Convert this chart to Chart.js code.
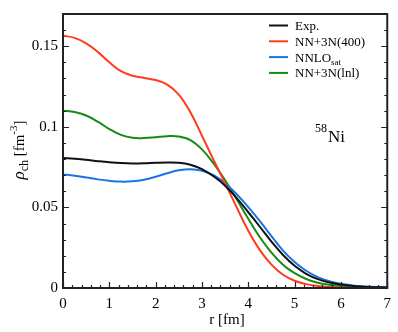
<!DOCTYPE html>
<html>
<head>
<meta charset="utf-8">
<script src="https://cdn.jsdelivr.net/npm/chart.js@4"></script>
<style>
  html, body { margin: 0; padding: 0; background: #fff; }
  #wrap { width: 398px; height: 332px; }
</style>
</head>
<body>
<div id="wrap"><canvas id="chart"></canvas></div>
<script>
// ── Data
const radius = [0, 0.25, 0.5, 0.75, 1, 1.25, 1.5, 1.75, 2, 2.25, 2.5, 2.75, 3, 3.25, 3.5, 3.75,
                4, 4.25, 4.5, 4.75, 5, 5.25, 5.5, 5.75, 6, 6.25, 6.5, 6.75, 7];

const rhoExp   = [0.0806, 0.0802, 0.0795, 0.0787, 0.0780, 0.0775, 0.0773, 0.0774, 0.0777, 0.0779, 0.0777, 0.0765,
                  0.0738, 0.0693, 0.0635, 0.0558, 0.0470, 0.0380, 0.0288, 0.0205, 0.0138, 0.0088, 0.0055, 0.0034,
                  0.0021, 0.0013, 0.0008, 0.0005, 0.0003];
const rho400   = [0.1565, 0.1552, 0.1518, 0.1465, 0.1400, 0.1345, 0.1317, 0.1303, 0.1290, 0.1262, 0.1200, 0.1090,
                  0.0945, 0.0795, 0.0650, 0.0500, 0.0355, 0.0235, 0.0145, 0.0082, 0.0045, 0.0024, 0.0012, 0.0006,
                  0.0003, 0.00015, 0.0001, 0.00005, 0];
const rhoSat   = [0.0705, 0.0697, 0.0686, 0.0674, 0.0665, 0.0660, 0.0662, 0.0672, 0.0690, 0.0712, 0.0730, 0.0737,
                  0.0728, 0.0700, 0.0650, 0.0582, 0.0502, 0.0415, 0.0322, 0.0232, 0.0162, 0.0107, 0.0068, 0.0042,
                  0.0026, 0.0016, 0.0010, 0.0006, 0.0004];
const rhoLnl   = [0.1100, 0.1092, 0.1070, 0.1032, 0.0986, 0.0950, 0.0932, 0.0930, 0.0935, 0.0942, 0.0940, 0.0918,
                  0.0860, 0.0773, 0.0668, 0.0550, 0.0430, 0.0315, 0.0220, 0.0145, 0.0092, 0.0056, 0.0033, 0.0020,
                  0.0012, 0.0007, 0.0004, 0.0002, 0.0001];

const seriesNames  = ['Exp.', 'NN+3N(400)', 'NNLO', 'NN+3N(lnl)'];
const seriesSubs   = ['', '', 'sat', ''];
const seriesColors = ['#111111', '#ff3b1c', '#1a74e2', '#168a16'];

const xTicks = [0, 1, 2, 3, 4, 5, 6, 7];
const xTickLabels = ['0', '1', '2', '3', '4', '5', '6', '7'];
const yTicks = [0, 0.05, 0.1, 0.15];
const yTickLabels = ['0', '0.05', '0.1', '0.15'];

const SERIF = '"Liberation Serif", "DejaVu Serif", serif';

function toPoints(vals) { return radius.map((r, i) => ({ x: r, y: vals[i] })); }

// ── Frame, inward ticks, legend, axis titles, nucleus label
const decorPlugin = {
  id: 'decor',
  afterDraw(chart) {
    const { ctx, chartArea: a, scales: { x, y } } = chart;
    ctx.save();

    // inward ticks: bottom, left, right
    ctx.strokeStyle = '#222';
    ctx.lineWidth = 1.2;
    ctx.beginPath();
    for (let v = 0; v <= 7.0001; v += 0.2) {
      const px = Math.round(x.getPixelForValue(v)) + 0.5;
      const major = Math.abs(v - Math.round(v)) < 1e-6;
      const len = major ? 6 : 3;
      ctx.moveTo(px, a.bottom); ctx.lineTo(px, a.bottom - len);
    }
    for (let v = 0; v <= 0.17; v += 0.01) {
      const py = Math.round(y.getPixelForValue(v)) + 0.5;
      const major = Math.abs(v / 0.05 - Math.round(v / 0.05)) < 1e-6;
      const len = major ? 6 : 3;
      ctx.moveTo(a.left, py); ctx.lineTo(a.left + len, py);
      ctx.moveTo(a.right, py); ctx.lineTo(a.right - len, py);
    }
    ctx.stroke();

    // frame
    ctx.lineWidth = 2;
    ctx.strokeRect(a.left, a.top, a.right - a.left, a.bottom - a.top);

    // legend
    const lx = 269, ly = 25.5, gap = 15.8;
    seriesNames.forEach((name, i) => {
      const yy = ly + i * gap;
      ctx.strokeStyle = seriesColors[i];
      ctx.lineWidth = 2;
      ctx.beginPath(); ctx.moveTo(lx, yy); ctx.lineTo(lx + 19, yy); ctx.stroke();
      ctx.fillStyle = '#000';
      ctx.textBaseline = 'alphabetic';
      ctx.textAlign = 'left';
      ctx.font = '13px ' + SERIF;
      ctx.fillText(name, lx + 26, yy + 4.5);
      if (seriesSubs[i]) {
        const w = ctx.measureText(name).width;
        ctx.font = '9px ' + SERIF;
        ctx.fillText(seriesSubs[i], lx + 26 + w, yy + 8);
      }
    });

    // 58Ni label
    ctx.fillStyle = '#000';
    ctx.font = '12px ' + SERIF;
    ctx.fillText('58', 315, 132);
    ctx.font = '17px ' + SERIF;
    ctx.fillText('Ni', 328, 142);

    // x title
    ctx.textAlign = 'center';
    ctx.font = '15px ' + SERIF;
    ctx.fillText('r [fm]', 227, 324);

    // y title, rotated, with sub/superscripts
    ctx.translate(19, 150);
    ctx.rotate(-Math.PI / 2);
    const parts = [
      { t: '\u03C1', f: 'italic 17px ' + SERIF, dy: 0 },
      { t: 'ch', f: '12px ' + SERIF, dy: 4 },
      { t: ' [fm', f: '15px ' + SERIF, dy: 0 },
      { t: '-3', f: '11px ' + SERIF, dy: -7 },
      { t: ']', f: '15px ' + SERIF, dy: 0 }
    ];
    let total = 0;
    parts.forEach(p => { ctx.font = p.f; p.w = ctx.measureText(p.t).width; total += p.w; });
    let cx = -total / 2;
    ctx.textAlign = 'left';
    parts.forEach(p => { ctx.font = p.f; ctx.fillText(p.t, cx, 5 + p.dy); cx += p.w; });

    ctx.restore();
  }
};

new Chart(document.getElementById('chart'), {
  type: 'line',
  data: {
    datasets: [rhoExp, rho400, rhoSat, rhoLnl].map((vals, i) => ({
      label: seriesNames[i] + seriesSubs[i],
      data: toPoints(vals),
      borderColor: seriesColors[i],
      borderWidth: 2,
      pointRadius: 0,
      fill: false,
      tension: 0.4
    }))
  },
  options: {
    responsive: true,
    maintainAspectRatio: false,
    animation: false,
    layout: { padding: { top: 6, right: 6, left: 0, bottom: 0 } },
    plugins: { legend: { display: false }, tooltip: { enabled: false } },
    scales: {
      x: {
        type: 'linear', min: 0, max: 7,
        grid: { display: false, drawTicks: false }, border: { display: false },
        afterBuildTicks: s => { s.ticks = xTicks.map(v => ({ value: v })); },
        ticks: {
          color: '#000', padding: 7, maxRotation: 0,
          font: { family: SERIF, size: 15 },
          callback: v => xTickLabels[xTicks.indexOf(v)] ?? ''
        },
        afterFit: s => { s.height = 44; }
      },
      y: {
        type: 'linear', min: 0, max: 0.17,
        grid: { display: false, drawTicks: false }, border: { display: false },
        afterBuildTicks: s => { s.ticks = yTicks.map(v => ({ value: v })); },
        ticks: {
          color: '#000', padding: 5,
          font: { family: SERIF, size: 15 },
          callback: v => yTickLabels[yTicks.indexOf(v)] ?? ''
        },
        afterFit: s => { s.width = 63; }
      }
    }
  },
  plugins: [decorPlugin]
});
</script>
</body>
</html>
